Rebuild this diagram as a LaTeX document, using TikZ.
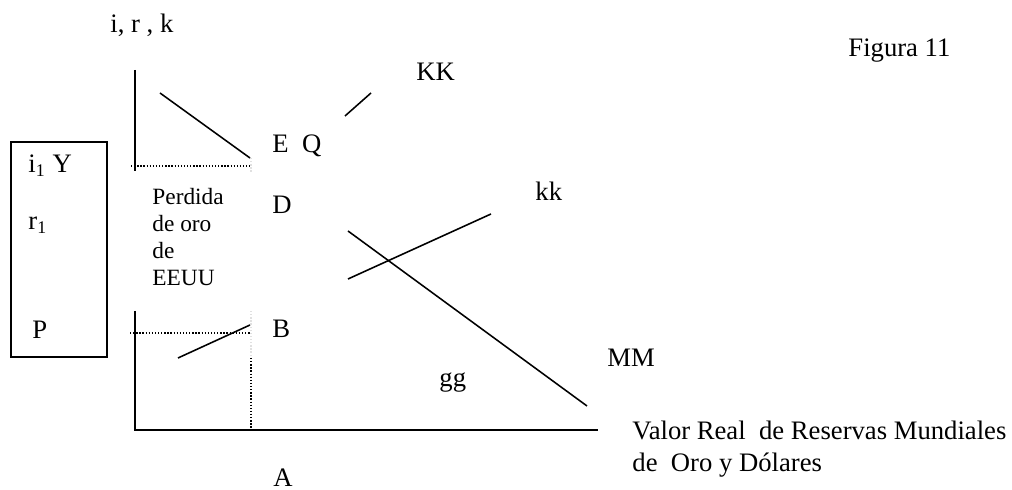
\documentclass[tikz,border=0pt]{standalone}
\usepackage{fontspec}
\setmainfont{Liberation Serif}
\begin{document}
\begin{tikzpicture}[x=0.45pt,y=-0.45pt,
  lbl/.style={anchor=base west,inner sep=0pt,font=\fontsize{12}{14.4}\selectfont},
  sml/.style={anchor=base west,inner sep=0pt,font=\fontsize{10.5}{12}\selectfont},
  curve/.style={line width=0.7pt},
  axisline/.style={line width=0.9pt},
  dots/.style={line width=0.6pt,dash pattern=on 0.6pt off 0.8pt},
  faint/.style={line width=0.5pt,black!12,dash pattern=on 0.6pt off 0.8pt}]
\useasboundingbox (0,0) rectangle (1012,490);
% coordinates
\coordinate (ut) at (135,70);
\coordinate (ub) at (135,171);
\coordinate (lt) at (135,311);
\coordinate (o) at (135,430);
\coordinate (xe) at (598,430);
\coordinate (e1) at (160,93);
\coordinate (e2) at (250,158);
\coordinate (d1) at (131,166);
\coordinate (d2) at (250,166);
\coordinate (k1) at (345,116);
\coordinate (k2) at (371,93);
\coordinate (kk1) at (348,279);
\coordinate (kk2) at (491,214);
\coordinate (m1) at (348,231);
\coordinate (m2) at (587,406);
\coordinate (b1) at (178,358);
\coordinate (b2) at (250,325);
\coordinate (p1) at (130,333);
\coordinate (p2) at (250,333);
\coordinate (v1) at (251,358);
\coordinate (v2) at (251,430);
\coordinate (f1) at (251,311);
\coordinate (f2) at (251,158);
\coordinate (f3) at (251,172);
\coordinate (bx1) at (11,142);
\coordinate (bx2) at (107,357);
% axes
\draw[axisline] (ut) -- (ub);
\draw[axisline] (lt) -- (o) -- (xe);
% box
\draw[axisline] (bx1) rectangle (bx2);
% faint guide
\draw[faint] (f1) -- (v1);
\draw[faint] (f2) -- (f3);
% curves
\draw[curve] (e1) -- (e2);
\draw[curve] (k1) -- (k2);
\draw[curve] (kk1) -- (kk2);
\draw[curve] (m1) -- (m2);
\draw[curve] (b1) -- (b2);
% dotted
\draw[dots] (d1) -- (d2);
\draw[dots] (p1) -- (p2);
\draw[dots] (v1) -- (v2);
% labels
\node[lbl] (tirk) at (110,33) {i, r , k};
\node[lbl] (tfig) at (848,57) {Figura 11};
\node[lbl] (tKK) at (416,81) {KK};
\node[lbl] (tEQ) at (272,153) {E\ \ Q};
\node[lbl] (tD) at (272,214) {D};
\node[lbl] (tkk) at (535,201) {kk};
\node[lbl] (tB) at (272,338) {B};
\node[lbl] (tA) at (273,487) {A};
\node[lbl] (tgg) at (439,387) {gg};
\node[lbl] (tMM) at (607,367) {MM};
\node[lbl] (tv1) at (632,440) {Valor Real\ \ de Reservas Mundiales};
\node[lbl] (tv2) at (632,472) {de\ \ Oro y Dólares};
\node[lbl] (ti1) at (28,173) {i\textsubscript{1} Y};
\node[lbl] (tr1) at (28,230) {r\textsubscript{1}};
\node[lbl] (tP) at (32,339) {P};
\node[sml] (tp1) at (152,205) {Perdida};
\node[sml] (tp2) at (152,232) {de oro};
\node[sml] (tp3) at (152,259) {de};
\node[sml] (tp4) at (152,286) {EEUU};
\end{tikzpicture}
\end{document}
